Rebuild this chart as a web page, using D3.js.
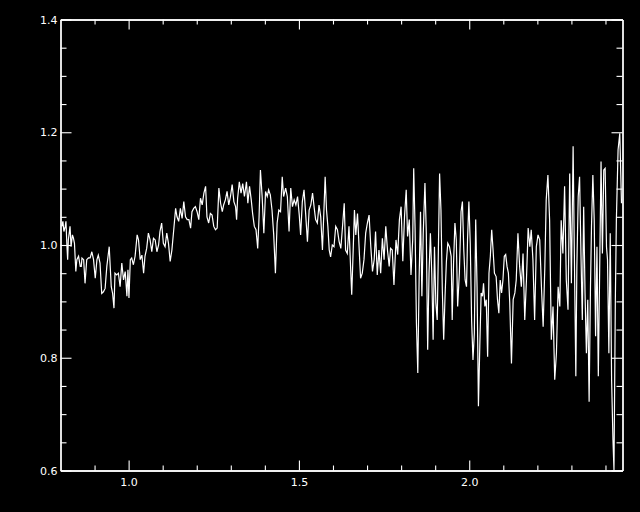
<!DOCTYPE html>
<html>
<head>
<meta charset="utf-8">
<script src="https://cdn.jsdelivr.net/npm/d3@7"></script>
<style>
  html, body { margin: 0; padding: 0; background: #000; }
  svg { display: block; }
</style>
</head>
<body>
<svg></svg>
<script>
// wavelength (micron) and normalised flux
const wavelength = [
  0.804, 0.807, 0.810, 0.814, 0.816, 0.819, 0.821, 0.823, 0.828, 0.831, 0.835, 0.838, 0.841, 0.845, 0.848, 0.853,
  0.858, 0.861, 0.863, 0.868, 0.872, 0.877, 0.882, 0.887, 0.892, 0.897, 0.902, 0.907, 0.911, 0.916, 0.921, 0.926,
  0.931, 0.936, 0.943, 0.949, 0.953, 0.957, 0.960, 0.965, 0.970, 0.975, 0.980, 0.985, 0.990, 0.995, 0.998, 1.001,
  1.005, 1.009, 1.014, 1.019, 1.025, 1.029, 1.034, 1.039, 1.044, 1.048, 1.053, 1.058, 1.063, 1.068, 1.073, 1.078,
  1.083, 1.088, 1.092, 1.097, 1.102, 1.107, 1.112, 1.117, 1.122, 1.127, 1.132,
  1.138, 1.142, 1.147, 1.152, 1.157, 1.162, 1.167, 1.172, 1.177, 1.182, 1.186, 1.191, 1.196, 1.201, 1.206, 1.211,
  1.216, 1.221, 1.226, 1.230, 1.235, 1.240, 1.245, 1.250, 1.255, 1.260, 1.265, 1.270, 1.275, 1.279, 1.284, 1.289,
  1.294, 1.299, 1.304, 1.309, 1.314, 1.317, 1.320, 1.325, 1.330, 1.335, 1.340, 1.346, 1.350, 1.355, 1.360, 1.364,
  1.369, 1.374, 1.379, 1.383, 1.387, 1.392, 1.397, 1.402, 1.407, 1.411, 1.416, 1.421, 1.426, 1.431, 1.436, 1.441,
  1.446, 1.451, 1.455,
  1.461, 1.466, 1.471, 1.476, 1.481, 1.486, 1.491, 1.496, 1.501, 1.505, 1.510, 1.515, 1.520, 1.525, 1.530, 1.535,
  1.540, 1.545, 1.549, 1.554, 1.559, 1.564, 1.569, 1.574, 1.577, 1.581, 1.585, 1.589, 1.593, 1.598, 1.603, 1.608,
  1.613, 1.618, 1.623, 1.628, 1.633, 1.637, 1.642, 1.647, 1.652, 1.655, 1.659, 1.663, 1.667, 1.672, 1.677, 1.681,
  1.686, 1.691, 1.696, 1.701, 1.706, 1.711, 1.716, 1.721, 1.725, 1.730, 1.735, 1.740, 1.745, 1.750, 1.755, 1.760,
  1.765, 1.769, 1.774, 1.779,
  1.785, 1.790, 1.795, 1.800, 1.805, 1.810, 1.815, 1.819, 1.824, 1.829, 1.834, 1.837, 1.841, 1.845, 1.849, 1.853,
  1.857, 1.861, 1.865, 1.870, 1.874, 1.878, 1.882, 1.886, 1.890, 1.894, 1.898, 1.902, 1.906, 1.909, 1.913, 1.917,
  1.921, 1.925, 1.929, 1.933, 1.937, 1.942, 1.947, 1.950, 1.954, 1.958, 1.962, 1.966, 1.971, 1.976, 1.980, 1.984,
  1.988, 1.992, 1.995, 1.999, 2.003, 2.007, 2.011, 2.015, 2.019, 2.023, 2.027, 2.031, 2.035, 2.039, 2.042, 2.046,
  2.050, 2.054, 2.058, 2.062, 2.066, 2.070, 2.074, 2.079, 2.083, 2.087, 2.091, 2.095, 2.099, 2.103, 2.107, 2.111,
  2.115,
  2.119, 2.124, 2.129, 2.134, 2.138, 2.143, 2.148, 2.153, 2.158, 2.163, 2.168, 2.173, 2.178, 2.182, 2.187, 2.192,
  2.197, 2.202, 2.207, 2.212, 2.217, 2.222, 2.226, 2.231, 2.236, 2.241, 2.246, 2.251, 2.256, 2.261, 2.266, 2.270,
  2.275, 2.280, 2.285, 2.290, 2.295, 2.300, 2.305, 2.310, 2.313, 2.316, 2.320, 2.324, 2.328, 2.332, 2.336, 2.340,
  2.344, 2.348, 2.352, 2.356, 2.359, 2.363, 2.367, 2.371, 2.375, 2.379, 2.383, 2.387, 2.391, 2.395, 2.399, 2.403,
  2.406, 2.410, 2.414, 2.418, 2.422, 2.425, 2.429, 2.432, 2.437, 2.442, 2.447
];

const flux = [
  1.033, 1.042, 1.024, 1.033, 1.042, 0.997, 0.974, 1.009, 1.033, 0.997, 1.018, 1.012, 1.003, 0.953, 0.974, 0.980,
  0.962, 0.962, 0.977, 0.974, 0.932, 0.974, 0.977, 0.977, 0.988, 0.974, 0.941, 0.974, 0.982, 0.968, 0.914, 0.917,
  0.923, 0.962, 0.997, 0.926, 0.914, 0.888, 0.950, 0.947, 0.950, 0.926, 0.968, 0.938, 0.953, 0.909, 0.956, 0.906,
  0.974, 0.977, 0.965, 0.980, 1.018, 1.009, 0.974, 0.982, 0.950, 0.980, 0.994, 1.021, 1.009, 0.988, 1.012, 1.009,
  0.988, 1.000, 1.024, 1.039, 1.003, 0.997, 1.021, 1.003, 0.971, 0.991, 1.024,
  1.065, 1.050, 1.042, 1.065, 1.047, 1.077, 1.050, 1.045, 1.045, 1.030, 1.059, 1.065, 1.068, 1.059, 1.045, 1.083,
  1.071, 1.092, 1.104, 1.050, 1.039, 1.056, 1.053, 1.033, 1.027, 1.030, 1.101, 1.074, 1.059, 1.071, 1.080, 1.095,
  1.071, 1.086, 1.107, 1.077, 1.068, 1.045, 1.083, 1.112, 1.092, 1.109, 1.086, 1.112, 1.074, 1.104, 1.080, 1.056,
  1.033, 1.027, 0.994, 1.050, 1.133, 1.086, 1.021, 1.095, 1.086, 1.098, 1.089, 1.062, 1.018, 0.950, 1.039, 1.062,
  1.059, 1.121, 1.086,
  1.101, 1.086, 1.024, 1.101, 1.068, 1.080, 1.071, 1.086, 1.053, 1.018, 1.077, 1.098, 1.053, 1.006, 1.062, 1.071,
  1.092, 1.065, 1.045, 1.039, 1.071, 1.050, 0.991, 1.071, 1.121, 1.062, 1.033, 0.991, 0.979, 1.000, 0.997, 1.033,
  1.027, 1.006, 0.994, 1.033, 1.074, 0.991, 0.985, 1.033, 0.956, 0.912, 0.985, 1.062, 1.018, 1.056, 0.991, 0.941,
  0.950, 0.974, 1.021, 1.039, 1.053, 0.997, 0.953, 0.974, 1.024, 0.947, 0.991, 0.950, 1.012, 0.974, 1.033, 0.991,
  0.962, 0.994, 0.991, 0.929,
  1.009, 0.983, 1.045, 1.068, 0.971, 1.050, 1.098, 1.015, 1.045, 0.947, 1.009, 1.136, 1.030, 0.861, 0.773, 0.944,
  1.059, 0.909, 1.021, 1.110, 1.021, 0.814, 0.950, 1.021, 0.950, 0.832, 0.997, 0.897, 0.867, 0.974, 1.127, 1.062,
  0.920, 0.832, 0.909, 0.971, 1.003, 0.997, 0.980, 0.867, 0.968, 1.039, 1.009, 0.891, 0.950, 1.059, 1.077, 0.991,
  0.938, 0.926, 1.009, 1.077, 1.003, 0.867, 0.796, 0.844, 1.045, 0.926, 0.714, 0.820, 0.915, 0.909, 0.932, 0.891,
  0.903, 0.802, 0.950, 0.980, 1.027, 0.991, 0.950, 0.944, 0.903, 0.879, 0.938, 0.915, 0.938, 0.980, 0.983, 0.962,
  0.950,
  0.897, 0.790, 0.903, 0.915, 0.938, 1.021, 0.962, 0.926, 0.985, 0.867, 0.938, 1.030, 0.997, 1.027, 0.974, 0.867,
  0.997, 1.018, 1.009, 0.926, 0.855, 0.962, 1.080, 1.124, 1.044, 0.832, 0.891, 0.761, 0.808, 0.926, 0.891, 1.044,
  0.985, 1.104, 0.938, 0.885, 1.127, 0.932, 1.175, 0.915, 0.767, 0.962, 1.086, 1.121, 0.985, 0.867, 1.068, 0.915,
  0.808, 0.903, 0.722, 0.926, 1.033, 1.124, 1.044, 0.838, 0.997, 0.767, 0.956, 1.148, 0.985, 1.133, 1.136, 0.997,
  0.974, 0.808, 1.021, 0.761, 0.654, 0.601, 0.903, 1.044, 1.169, 1.198, 1.074
];

const xTicks = [1.0, 1.5, 2.0];
const xMinor = [0.9, 1.1, 1.2, 1.3, 1.4, 1.6, 1.7, 1.8, 1.9, 2.1, 2.2, 2.3, 2.4];
const yTicks = [0.6, 0.8, 1.0, 1.2, 1.4];
const yMinor = [0.65, 0.7, 0.75, 0.85, 0.9, 0.95, 1.05, 1.1, 1.15, 1.25, 1.3, 1.35];

const width = 640;
const height = 512;
const margin = { top: 19.5, right: 17.5, bottom: 41.5, left: 60.5 };

const svg = d3.select("svg")
    .attr("width", width)
    .attr("height", height)
    .style("background", "#000");

const x = d3.scaleLinear()
    .domain([0.8, 2.45])
    .range([margin.left, width - margin.right]);

const y = d3.scaleLinear()
    .domain([0.6, 1.4])
    .range([height - margin.bottom, margin.top]);

const fmt = d3.format(".1f");

svg.append("clipPath").attr("id", "plot")
  .append("rect")
    .attr("x", margin.left)
    .attr("y", margin.top)
    .attr("width", width - margin.left - margin.right)
    .attr("height", height - margin.top - margin.bottom);

const line = d3.line()
    .x((d, i) => x(wavelength[i]))
    .y(d => y(d));

svg.append("path")
    .datum(flux)
    .attr("clip-path", "url(#plot)")
    .attr("fill", "none")
    .attr("stroke", "#fff")
    .attr("stroke-width", 1.2)
    .attr("stroke-linejoin", "miter")
    .attr("d", line);

function styleAxis(g) {
  g.select(".domain").attr("stroke", "#fff").attr("stroke-width", 1.3);
  g.selectAll(".tick line").attr("stroke", "#fff").attr("stroke-width", 1.1);
  g.selectAll(".tick text")
      .attr("fill", "#fff")
      .style("font-family", "'DejaVu Sans', sans-serif")
      .style("font-size", "11px");
}

const bottom = height - margin.bottom;
const right = width - margin.right;

// bottom axis (labels) + minor ticks
svg.append("g")
    .attr("transform", `translate(0,${bottom})`)
    .call(d3.axisBottom(x).tickValues(xTicks).tickSize(-10).tickPadding(8).tickFormat(fmt).tickSizeOuter(0))
    .call(styleAxis);
svg.append("g")
    .attr("transform", `translate(0,${bottom})`)
    .call(d3.axisBottom(x).tickValues(xMinor).tickSize(-5).tickFormat("").tickSizeOuter(0))
    .call(styleAxis);

// top axis
svg.append("g")
    .attr("transform", `translate(0,${margin.top})`)
    .call(d3.axisTop(x).tickValues(xTicks).tickSize(-10).tickFormat("").tickSizeOuter(0))
    .call(styleAxis);
svg.append("g")
    .attr("transform", `translate(0,${margin.top})`)
    .call(d3.axisTop(x).tickValues(xMinor).tickSize(-5).tickFormat("").tickSizeOuter(0))
    .call(styleAxis);

// left axis (labels) + minor ticks
svg.append("g")
    .attr("transform", `translate(${margin.left},0)`)
    .call(d3.axisLeft(y).tickValues(yTicks).tickSize(-11).tickPadding(3).tickFormat(fmt).tickSizeOuter(0))
    .call(styleAxis);
svg.append("g")
    .attr("transform", `translate(${margin.left},0)`)
    .call(d3.axisLeft(y).tickValues(yMinor).tickSize(-6).tickFormat("").tickSizeOuter(0))
    .call(styleAxis);

// right axis
svg.append("g")
    .attr("transform", `translate(${right},0)`)
    .call(d3.axisRight(y).tickValues(yTicks).tickSize(-11).tickFormat("").tickSizeOuter(0))
    .call(styleAxis);
svg.append("g")
    .attr("transform", `translate(${right},0)`)
    .call(d3.axisRight(y).tickValues(yMinor).tickSize(-6).tickFormat("").tickSizeOuter(0))
    .call(styleAxis);
</script>
</body>
</html>
